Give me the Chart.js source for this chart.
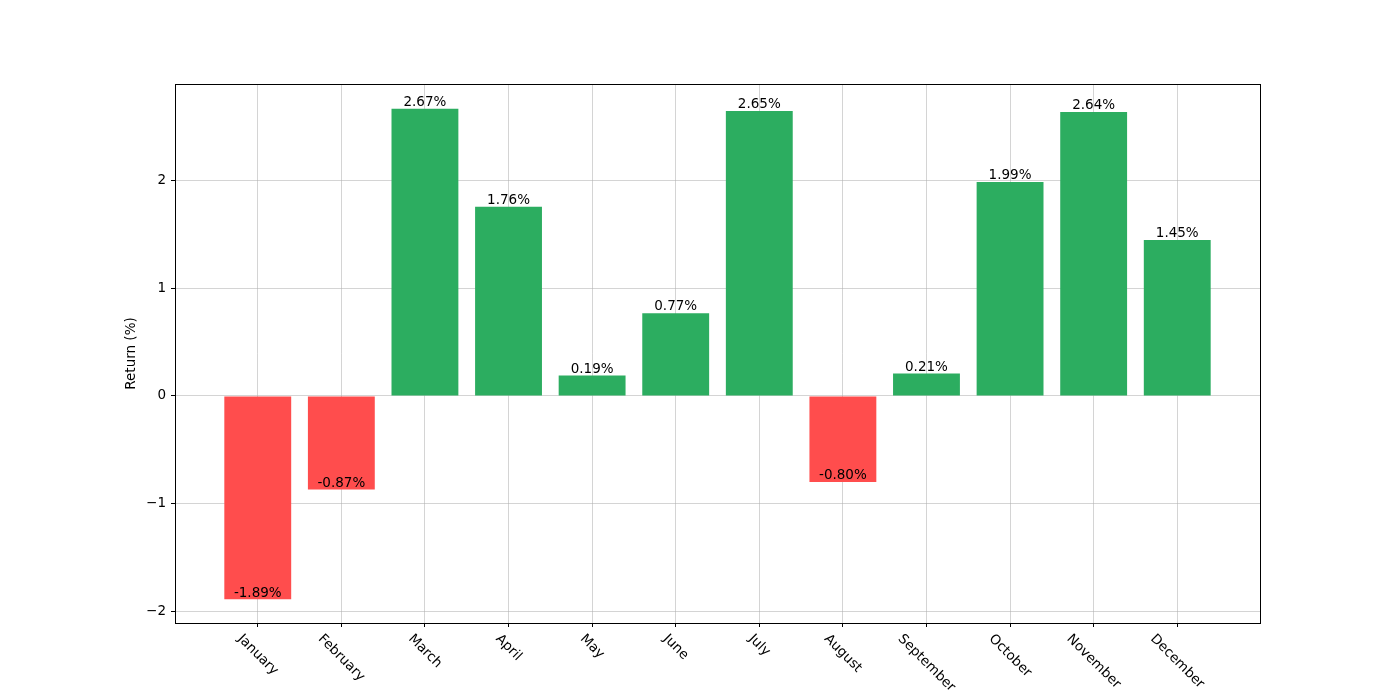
<!DOCTYPE html>
<html>
<head>
<meta charset="utf-8">
<script src="https://cdn.jsdelivr.net/npm/chart.js@4"></script>
<style>
    html, body { margin: 0; padding: 0; background: #fff; }
</style>
</head>
<body>
<canvas id="returns-chart" width="1400" height="700"></canvas>
<script>
"use strict";

const months = ["January", "February", "March", "April", "May", "June",
    "July", "August", "September", "October", "November", "December"];
const returns = [-1.89, -0.87, 2.67, 1.76, 0.19, 0.77, 2.65, -0.80, 0.21, 1.99, 2.64, 1.45];
const yTicks = [-2, -1, 0, 1, 2];

const FONT = "'DejaVu Sans', sans-serif";
const GREEN = "rgb(44, 173, 96)";
const RED = "rgb(255, 77, 77)";

// 枠線・月ラベル・値ラベル
const decorations = {
    id: "decorations",
    afterDraw(chart) {
        const ctx = chart.ctx;
        const area = chart.chartArea;
        const xs = chart.scales.x;
        const ys = chart.scales.y;
        ctx.save();

        // bar value labels
        ctx.font = "13.5px " + FONT;
        ctx.fillStyle = "#000";
        ctx.textAlign = "center";
        ctx.textBaseline = "bottom";
        chart.getDatasetMeta(0).data.forEach((bar, i) => {
            const v = returns[i];
            ctx.fillText(v.toFixed(2) + "%", bar.x, ys.getPixelForValue(v) + 0.5);
        });

        // rotated month labels (clockwise 45°)
        const h = 13.5;
        months.forEach((m, i) => {
            const w = ctx.measureText(m).width;
            const box = (w + h) * Math.SQRT1_2;
            const cx = xs.getPixelForValue(i);
            const cy = area.bottom + 9 + box / 2;
            ctx.save();
            ctx.translate(cx, cy);
            ctx.rotate(Math.PI / 4);
            ctx.textBaseline = "middle";
            ctx.fillText(m, 0, 0);
            ctx.restore();
        });

        // frame
        ctx.strokeStyle = "#000";
        ctx.lineWidth = 1;
        ctx.strokeRect(Math.round(area.left) + 0.5, Math.round(area.top) + 0.5,
            Math.round(area.right - area.left), Math.round(area.bottom - area.top));
        ctx.restore();
    },
};

const canvas_place = document.getElementById("returns-chart");

new Chart(canvas_place, {
    type: "bar",
    data: {
        datasets: [
            {
                data: returns.map((v, i) => ({ x: i, y: v })),
                backgroundColor: returns.map((v) => (v < 0 ? RED : GREEN)),
                borderWidth: 0,
                barPercentage: 0.8,
                categoryPercentage: 1.0,
            },
        ],
    },
    options: {
        responsive: false,
        animation: false,
        layout: {
            padding: { left: 115, right: 140, top: 84, bottom: 0 },
        },
        scales: {
            x: {
                type: "linear",
                min: -0.99,
                max: 11.99,
                offset: false,
                afterFit: (s) => { s.height = 77; },
                afterBuildTicks: (s) => {
                    s.ticks = months.map((m, i) => ({ value: i }));
                },
                ticks: { display: false },
                grid: {
                    offset: false,
                    color: "rgba(176, 176, 176, 0.55)",
                    tickColor: "#000",
                    tickLength: 4,
                },
                border: { color: "#000" },
            },
            y: {
                min: -2.11,
                max: 2.9,
                afterFit: (s) => { s.width = 60; },
                afterBuildTicks: (s) => {
                    s.ticks = yTicks.map((v) => ({ value: v }));
                },
                ticks: {
                    color: "#000",
                    padding: 5,
                    font: { family: FONT, size: 13.5 },
                    callback: (v) => (v < 0 ? "\u2212" + Math.abs(v) : String(v)),
                },
                grid: {
                    color: "rgba(176, 176, 176, 0.55)",
                    tickColor: "#000",
                    tickLength: 4,
                },
                border: { color: "#000" },
                title: {
                    display: true,
                    text: "Return (%)",
                    color: "#000",
                    font: { family: FONT, size: 13.5 },
                    padding: { top: 8, bottom: 0 },
                },
            },
        },
        plugins: {
            legend: { display: false },
            tooltip: { enabled: false },
        },
    },
    plugins: [decorations],
});
</script>
</body>
</html>
